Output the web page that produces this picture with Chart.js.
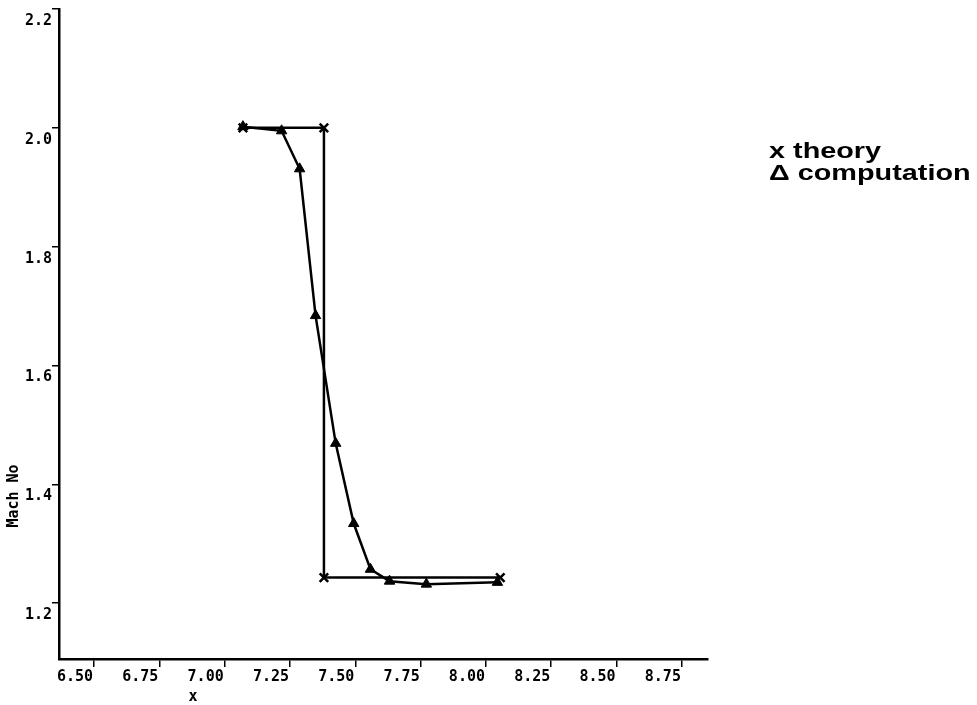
<!DOCTYPE html>
<html>
<head>
<meta charset="utf-8">
<title>Mach No</title>
<script src="https://cdn.jsdelivr.net/npm/chart.js@4.4.1/dist/chart.umd.min.js"></script>
<style>
  body { margin: 0; background: #fff; }
  canvas { display: block; }
</style>
</head>
<body>
<canvas id="canvasMach" width="977" height="705"></canvas>
<script>
//Values
const theoryX = [7.07, 7.38, 7.38, 8.055]
const theoryY = [2.0, 2.0, 1.243, 1.243]
const computedX = [7.07, 7.218, 7.287, 7.348, 7.425, 7.494, 7.558, 7.631, 7.772, 8.044]
const computedY = [2.002, 1.995, 1.931, 1.684, 1.469, 1.334, 1.257, 1.237, 1.232, 1.235]
const xTicks = [6.5, 6.75, 7.0, 7.25, 7.5, 7.75, 8.0, 8.25, 8.5, 8.75]
const yTicks = [1.2, 1.4, 1.6, 1.8, 2.0, 2.2]
const legendLabels = ['x theory', 'Δ computation']
//End of values

const toPoints = (xs, ys) => xs.map((x, i) => ({ x: x, y: ys[i] }))

const tickFont = { family: 'DejaVu Sans Mono', size: 15, weight: 'bold' }

//Axis titles and legend text, drawn after the chart
const textPlugin = {
    id: 'extraText',
    afterDraw: (chart) => {
        const ctx = chart.ctx
        const area = chart.chartArea
        ctx.save()
        ctx.fillStyle = '#000'
        ctx.font = 'bold 15px "DejaVu Sans Mono"'
        ctx.textAlign = 'center'
        ctx.textBaseline = 'middle'
        ctx.fillText('x', area.left + 134, 697)
        ctx.translate(14, 496)
        ctx.rotate(-Math.PI / 2)
        ctx.fillText('Mach No', 0, 0)
        ctx.restore()

        ctx.save()
        ctx.fillStyle = '#000'
        ctx.font = 'bold 22px "Liberation Sans"'
        ctx.textAlign = 'left'
        ctx.textBaseline = 'alphabetic'
        legendLabels.forEach((text, i) => {
            ctx.save()
            ctx.translate(769, 158 + i * 22)
            ctx.scale(1.31, 1)
            ctx.fillText(text, 0, 0)
            ctx.restore()
        })
        ctx.restore()
    }
}
//End of text plugin

const ctx = document.getElementById('canvasMach').getContext('2d')
new Chart(ctx, {
    type: 'line',
    data: {
        datasets: [{
            label: 'theory',
            data: toPoints(theoryX, theoryY),
            borderColor: '#000',
            borderWidth: 2.5,
            pointStyle: 'crossRot',
            pointRadius: 6,
            pointBorderWidth: 2.5,
            pointBorderColor: '#000',
            pointBackgroundColor: '#000',
            tension: 0,
            fill: false
        },
        {
            label: 'computation',
            data: toPoints(computedX, computedY),
            borderColor: '#000',
            borderWidth: 2.5,
            pointStyle: 'triangle',
            pointRadius: 6,
            pointBorderWidth: 1,
            pointBorderColor: '#000',
            pointBackgroundColor: '#000',
            tension: 0,
            fill: false
        }]
    },
    options: {
        responsive: false,
        animation: false,
        layout: { padding: { top: 8, right: 269, left: 0, bottom: 0 } },
        plugins: {
            legend: { display: false },
            tooltip: { enabled: false }
        },
        scales: {
            x: {
                type: 'linear',
                min: 6.366,
                max: 8.85,
                afterBuildTicks: (scale) => { scale.ticks = xTicks.map(v => ({ value: v })) },
                afterFit: (scale) => { scale.height = 46 },
                border: { color: '#000', width: 2.5 },
                grid: { drawOnChartArea: false, drawTicks: true, tickLength: 8, color: '#000', lineWidth: 1.5 },
                ticks: {
                    color: '#000',
                    font: tickFont,
                    padding: 1,
                    labelOffset: -19,
                    maxRotation: 0,
                    autoSkip: false,
                    callback: (v) => v.toFixed(2)
                }
            },
            y: {
                type: 'linear',
                min: 1.106,
                max: 2.2,
                afterBuildTicks: (scale) => { scale.ticks = yTicks.map(v => ({ value: v })) },
                afterFit: (scale) => { scale.width = 59 },
                border: { color: '#000', width: 2.5 },
                grid: { drawOnChartArea: false, drawTicks: true, tickLength: 7, color: '#000', lineWidth: 1.5 },
                ticks: {
                    color: '#000',
                    font: tickFont,
                    padding: 0,
                    labelOffset: 12,
                    autoSkip: false,
                    callback: (v) => v.toFixed(1)
                }
            }
        }
    },
    plugins: [textPlugin]
})
</script>
</body>
</html>
